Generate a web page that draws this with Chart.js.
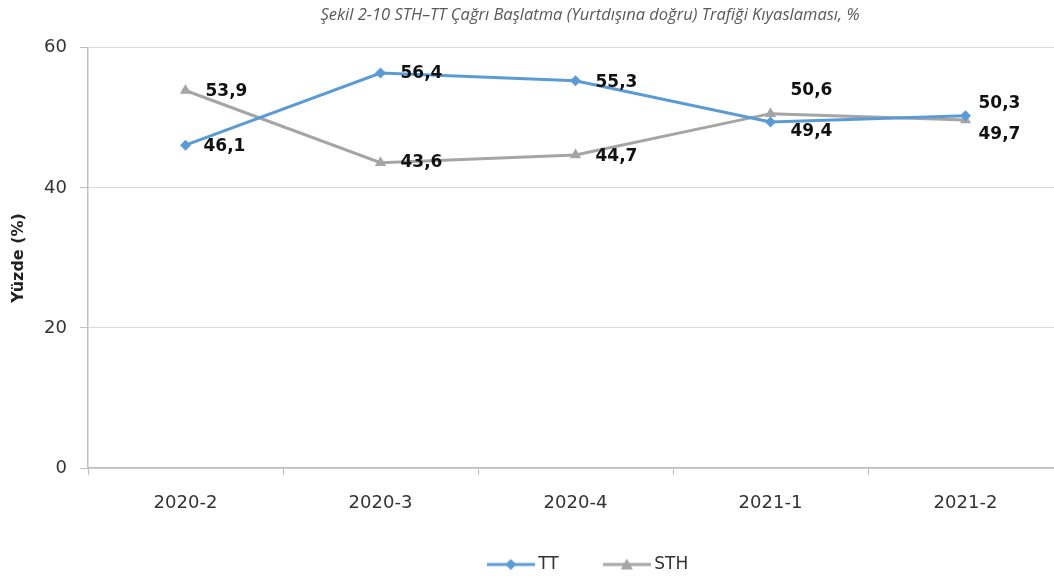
<!DOCTYPE html>
<html>
<head>
<meta charset="utf-8">
<script src="https://cdn.jsdelivr.net/npm/chart.js@4.4.1/dist/chart.umd.min.js"></script>
<style>
  html, body { margin: 0; padding: 0; background: #fff; overflow: hidden; }
  #wrap { width: 1180px; height: 583px; }
</style>
</head>
<body>
<div id="wrap"><canvas id="c" width="1180" height="583"></canvas></div>
<script>
const chartTitle = 'Şekil 2-10 STH–TT Çağrı Başlatma (Yurtdışına doğru) Trafiği Kıyaslaması, %';
const yAxisTitle = 'Yüzde (%)';
const categories = ['2020-2', '2020-3', '2020-4', '2021-1', '2021-2'];
const ttValues = [46.1, 56.4, 55.3, 49.4, 50.3];
const sthValues = [53.9, 43.6, 44.7, 50.6, 49.7];
const yTicks = [0, 20, 40, 60];

// label placement offsets (dx, dy) from the point, per series
const ttLabelOffsets = [[18, 1], [20, 1], [20, 2], [20, 10], [13, -12]];
const sthLabelOffsets = [[20, 1], [20, 0], [20, 2], [20, -23], [13, 15]];

const TT_COLOR = '#5B9BD5';
const STH_COLOR = '#A5A5A5';
const CANVAS_W = 1180;
const LEGEND_TOP = 507;
const LEGEND_BOTTOM = 600;

function legendImage(color, style) {
  const cv = document.createElement('canvas');
  cv.width = 48; cv.height = 14;
  const ctx = cv.getContext('2d');
  ctx.strokeStyle = color; ctx.lineWidth = 3;
  ctx.beginPath(); ctx.moveTo(0, 7); ctx.lineTo(48, 7); ctx.stroke();
  ctx.fillStyle = color;
  ctx.beginPath();
  if (style === 'diamond') {
    ctx.moveTo(24, 1.5); ctx.lineTo(29.5, 7); ctx.lineTo(24, 12.5); ctx.lineTo(18.5, 7);
  } else {
    ctx.moveTo(24, 1); ctx.lineTo(30, 12); ctx.lineTo(18, 12);
  }
  ctx.closePath(); ctx.fill();
  return cv;
}
const legendImgs = [legendImage(TT_COLOR, 'diamond'), legendImage(STH_COLOR, 'triangle')];

const fmt = v => v.toFixed(1).replace('.', ',');

const labelPlugin = {
  id: 'valueLabels',
  afterLayout(chart) {
    // center title and legend over the full (wider) canvas, like the reference
    [chart.titleBlock, chart.legend].forEach(b => {
      if (b) { b.left = 0; b.right = CANVAS_W; b.width = CANVAS_W; }
    });
    if (chart.legend) {
      chart.legend.top = LEGEND_TOP;
      chart.legend.bottom = LEGEND_BOTTOM;
      chart.legend.height = LEGEND_BOTTOM - LEGEND_TOP;
    }
  },
  afterDatasetsDraw(chart) {
    const ctx = chart.ctx;
    const offsets = [ttLabelOffsets, sthLabelOffsets];
    ctx.save();
    ctx.font = 'bold 17px "DejaVu Sans"';
    ctx.fillStyle = '#111';
    ctx.textAlign = 'left';
    ctx.textBaseline = 'middle';
    chart.data.datasets.forEach((ds, di) => {
      const meta = chart.getDatasetMeta(di);
      meta.data.forEach((pt, i) => {
        const [dx, dy] = offsets[di][i];
        ctx.fillText(fmt(ds.data[i]), pt.x + dx, pt.y + dy);
      });
    });
    ctx.restore();
  }
};

new Chart(document.getElementById('c'), {
  type: 'line',
  data: {
    labels: categories,
    datasets: [
      {
        label: 'TT', data: ttValues, borderColor: TT_COLOR, backgroundColor: TT_COLOR,
        borderWidth: 3, pointStyle: 'rectRot', pointRadius: 5.5, pointBorderWidth: 0,
        tension: 0, fill: false
      },
      {
        label: 'STH', data: sthValues, borderColor: STH_COLOR, backgroundColor: STH_COLOR,
        borderWidth: 3, pointStyle: 'triangle', pointRadius: 6.5, pointBorderWidth: 0,
        tension: 0, fill: false
      }
    ]
  },
  options: {
    responsive: false,
    animation: false,
    devicePixelRatio: 1,
    layout: { padding: { left: 0, right: 117, top: 0, bottom: 0 } },
    plugins: {
      tooltip: { enabled: false },
      title: {
        display: true, text: chartTitle, color: '#595959',
        font: { family: 'Open Sans', style: 'italic', size: 16.5, weight: 'normal' },
        padding: { top: 5, bottom: 23 }
      },
      legend: {
        position: 'bottom',
        maxHeight: 55,
        labels: {
          usePointStyle: true, pointStyleWidth: 38, padding: 49,
          color: '#333', font: { family: 'DejaVu Sans', size: 17 },
          generateLabels: (chart) => chart.data.datasets.map((ds, i) => ({
            text: ds.label, pointStyle: legendImgs[i], fillStyle: ds.borderColor,
            strokeStyle: ds.borderColor, lineWidth: 0, hidden: false, datasetIndex: i,
            fontColor: '#333'
          }))
        }
      }
    },
    scales: {
      x: {
        type: 'category', offset: true,
        grid: { display: true, drawOnChartArea: false, drawTicks: true, tickLength: 7, offset: true, color: '#bfbfbf', tickColor: '#bfbfbf' },
        border: { color: '#bfbfbf', width: 1.5 },
        ticks: { font: { family: 'DejaVu Sans', size: 18 }, color: '#333', padding: 18, maxRotation: 0 },
        afterFit: (s) => { s.height = 60; }
      },
      y: {
        min: 0, max: 60,
        afterBuildTicks: (s) => { s.ticks = yTicks.map(v => ({ value: v })); },
        grid: { color: '#d9d9d9', tickLength: 8, tickColor: '#bfbfbf' },
        border: { color: '#bfbfbf', width: 1.5 },
        ticks: { font: { family: 'DejaVu Sans', size: 18 }, color: '#333', padding: 13 },
        title: {
          display: true, text: yAxisTitle, color: '#222',
          font: { family: 'DejaVu Sans', weight: 'bold', size: 16 },
          padding: { top: 9, bottom: 0 }
        },
        afterFit: (s) => { s.width = 88; }
      }
    }
  },
  plugins: [labelPlugin]
});
</script>
</body>
</html>
